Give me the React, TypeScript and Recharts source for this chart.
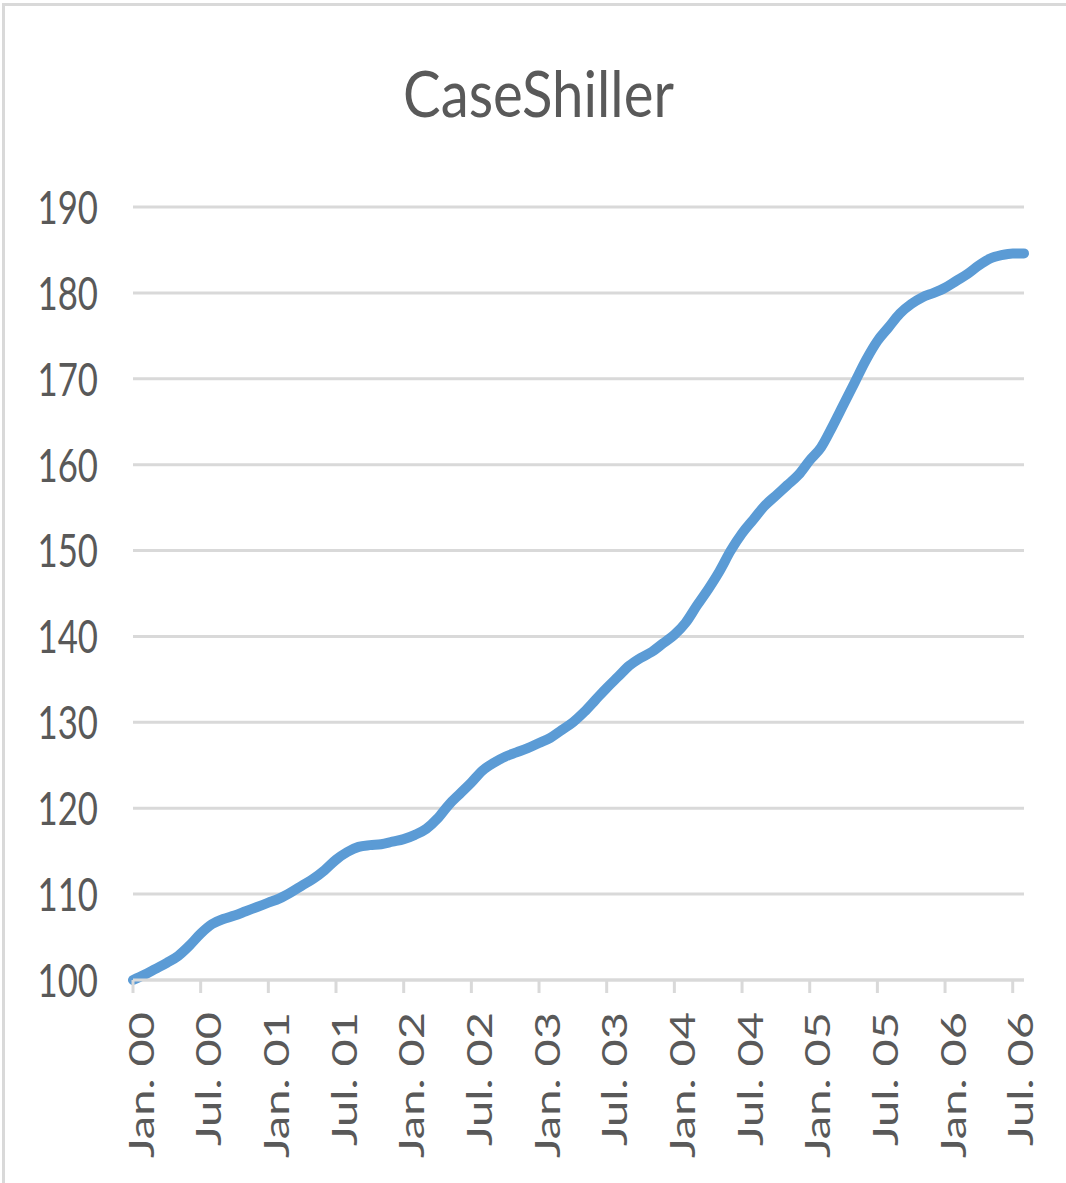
import { LineChart, Line, XAxis, YAxis, CartesianGrid } from 'recharts';

const MONTHS = ['Jan', 'Feb', 'Mar', 'Apr', 'May', 'Jun', 'Jul', 'Aug', 'Sep', 'Oct', 'Nov', 'Dec'];
const YEARS = ['00', '01', '02', '03', '04', '05', '06'];

// monthly index values, Jan 00 .. Aug 06
const VALUES = [
  100.0, 100.6, 101.3, 102.0, 102.8, 104.0, 105.4, 106.5, 107.1, 107.5, 108.0, 108.5,
  109.0, 109.5, 110.2, 111.0, 111.8, 112.8, 114.0, 114.9, 115.5, 115.7, 115.8, 116.1,
  116.4, 116.9, 117.6, 118.8, 120.4, 121.7, 123.0, 124.4, 125.3, 126.0, 126.5, 127.0,
  127.6, 128.2, 129.1, 130.0, 131.2, 132.6, 134.0, 135.3, 136.6, 137.5, 138.2, 139.2,
  140.2, 141.6, 143.6, 145.5, 147.6, 150.0, 152.0, 153.6, 155.2, 156.4, 157.6, 158.8,
  160.5, 162.0, 164.4, 167.0, 169.6, 172.2, 174.4, 176.0, 177.6, 178.7, 179.5, 180.0,
  180.6, 181.4, 182.2, 183.2, 184.0, 184.4, 184.6, 184.6,
];

const Y_TICKS = [100, 110, 120, 130, 140, 150, 160, 170, 180, 190];

const TEXT = '#595959';
const GRID = '#d9d9d9';
const FONT = 'Lato, sans-serif';
const SQUEEZE = 0.74;

const data = VALUES.map((v, i) => ({
  month: `${MONTHS[i % 12]}. ${YEARS[Math.floor(i / 12)]}`,
  value: v,
}));

function YTick({ x, y, payload }: any) {
  return (
    <g transform={`translate(${x},${y}) scale(${SQUEEZE},1)`}>
      <text x={0} y={0} dy="0.36em" textAnchor="end" fill={TEXT} fontSize={47} fontFamily={FONT}>
        {payload.value}
      </text>
    </g>
  );
}

function XTick({ x, y, payload }: any) {
  return (
    <g transform={`translate(${x},${y})`}>
      <text
        transform={`rotate(-90) scale(1,${SQUEEZE})`}
        x={0}
        y={28}
        textAnchor="end"
        fill={TEXT}
        fontSize={47}
        fontFamily={FONT}
      >
        {payload.value}
      </text>
    </g>
  );
}

export default function App() {
  return (
    <div style={{ position: 'absolute', left: 0, top: 0, width: 1066, height: 1183, overflow: 'hidden', background: '#fff' }}>
      <div
        style={{
          position: 'absolute',
          left: 2,
          top: 3,
          width: 1100,
          height: 1220,
          borderLeft: `3px solid ${GRID}`,
          borderTop: `3px solid ${GRID}`,
        }}
      />
      <div
        style={{
          position: 'absolute',
          left: 0,
          width: 1077,
          top: 53,
          textAlign: 'center',
          color: TEXT,
          fontFamily: FONT,
          fontSize: 64,
          lineHeight: '80px',
          transform: 'scaleX(0.88)',
        }}
      >
        CaseShiller
      </div>
      <div style={{ position: 'absolute', left: 0, top: 0 }}>
        <LineChart width={1066} height={1183} data={data} margin={{ top: 207, right: 42, left: 0, bottom: 0 }}>
          <CartesianGrid vertical={false} stroke={GRID} strokeWidth={3} />
          <XAxis
            dataKey="month"
            interval={5}
            height={203}
            axisLine={{ stroke: GRID, strokeWidth: 3 }}
            tickLine={{ stroke: GRID, strokeWidth: 3 }}
            tickSize={13}
            tickMargin={19}
            tick={<XTick />}
          />
          <YAxis
            domain={[100, 190]}
            ticks={Y_TICKS}
            width={133}
            axisLine={false}
            tickLine={false}
            tickSize={6}
            tickMargin={29}
            tick={<YTick />}
          />
          <Line
            type="monotone"
            dataKey="value"
            stroke="#5b9bd5"
            strokeWidth={10}
            strokeLinecap="round"
            strokeLinejoin="round"
            dot={false}
            isAnimationActive={false}
          />
        </LineChart>
      </div>
    </div>
  );
}
